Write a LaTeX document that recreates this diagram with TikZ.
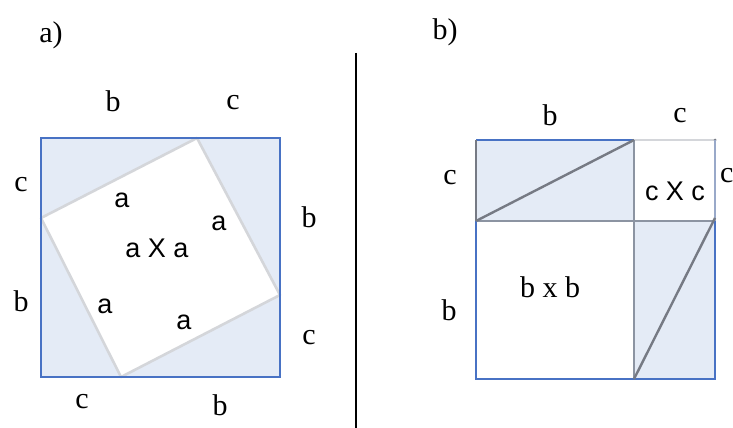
\documentclass[tikz,border=0pt]{standalone}
\usepackage{fontspec}
\setmainfont{Liberation Serif}
\newfontfamily\labsans{Liberation Sans}
\definecolor{fillbg}{RGB}{228,235,246}
\definecolor{edgeblue}{RGB}{72,114,196}
\definecolor{innergray}{RGB}{212,214,218}
\definecolor{divgray}{RGB}{140,148,162}
\definecolor{diaggray}{RGB}{118,122,132}
\tikzset{
  lbl/.style={font=\fontsize{30}{32}\selectfont, inner sep=0pt},
  slbl/.style={font=\labsans\fontsize{27}{29}\selectfont, inner sep=0pt},
  outer/.style={draw=edgeblue, line width=2.8pt},
  divider/.style={draw=divgray, line width=2.4pt},
  diagline/.style={draw=diaggray, line width=2.4pt},
}
\begin{document}
\begin{tikzpicture}[x=1pt,y=-1pt]
\useasboundingbox (0,0) rectangle (733,428);
\fill[white] (0,0) rectangle (733,428);

% ---------- a) ----------
\coordinate (A1) at (41,138);
\coordinate (A2) at (280,138);
\coordinate (A3) at (280,377);
\coordinate (A4) at (41,377);
\coordinate (Pt) at (197,138);
\coordinate (Pr) at (280,295);
\coordinate (Pb) at (121,377);
\coordinate (Pl) at (41,218);
\fill[fillbg] (A1) rectangle (A3);
\fill[white] (Pt) -- (Pr) -- (Pb) -- (Pl) -- cycle;
\draw[innergray, line width=2.6pt, line join=round] (Pt) -- (Pr) -- (Pb) -- (Pl) -- cycle;
\draw[outer] (A1) rectangle (A3);

\node[lbl] (la) at (51,35) {a)};
\node[lbl] (at1) at (113,101) {b};
\node[lbl] (at2) at (233,103) {c};
\node[lbl] (al1) at (21,185) {c};
\node[lbl] (al2) at (21,301) {b};
\node[lbl] (ar1) at (309,217) {b};
\node[lbl] (ar2) at (309,338) {c};
\node[lbl] (ab1) at (82,402) {c};
\node[lbl] (ab2) at (220,405) {b};
\node[slbl] (ia1) at (122,200) {a};
\node[slbl] (ia2) at (219,223) {a};
\node[slbl] (ia3) at (105,306) {a};
\node[slbl] (ia4) at (184,322) {a};
\node[slbl] (iaa) at (157,248) {a X a};

% ---------- separator ----------
\coordinate (S1) at (356,53);
\coordinate (S2) at (356,428);
\draw[black, line width=1.8pt] (S1) -- (S2);

% ---------- b) ----------
\coordinate (B1) at (476,140);
\coordinate (B2) at (634,140);
\coordinate (B3) at (715,140);
\coordinate (B4) at (476,221);
\coordinate (B5) at (634,221);
\coordinate (B6) at (715,221);
\coordinate (B7) at (476,379);
\coordinate (B8) at (634,379);
\coordinate (B9) at (715,379);
\fill[fillbg] (B1) rectangle (B5);
\fill[fillbg] (B5) rectangle (B9);
% top-right square borders
\draw[innergray, line width=1.4pt] (B2) -- (B3);
\fill[diaggray] (B3) circle (1.5pt);
\draw[draw=edgeblue!45!divgray!70, line width=2.4pt] (B3) -- (B6);
% dividers
\draw[divider] (B4) -- (B6);
\draw[divider] (B2) -- (B8);
% outer edges
\draw[edgeblue, line width=2.8pt] (B1) -- (B2);
\draw[diaggray, line width=2.8pt] (B1) -- (B4);
\draw[edgeblue, line width=2.8pt] (B4) -- (B7) -- (B9) -- (B6);
% diagonals
\draw[diagline] (B4) -- (B2);
\draw[diagline] (B8) -- ([yshift=3]B6);

\node[lbl] (lb) at (445,32) {b)};
\node[lbl] (bt1) at (550,115) {b};
\node[lbl] (bt2) at (680,116) {c};
\node[lbl] (bl1) at (450,178) {c};
\node[lbl] (bl2) at (449,310) {b};
\node[lbl, anchor=west] (br1) at (720,176) {c};
\node[lbl] (bbb) at (550,287) {b x b};
\node[slbl] (bcc) at (675,191) {c X c};
\end{tikzpicture}
\end{document}
